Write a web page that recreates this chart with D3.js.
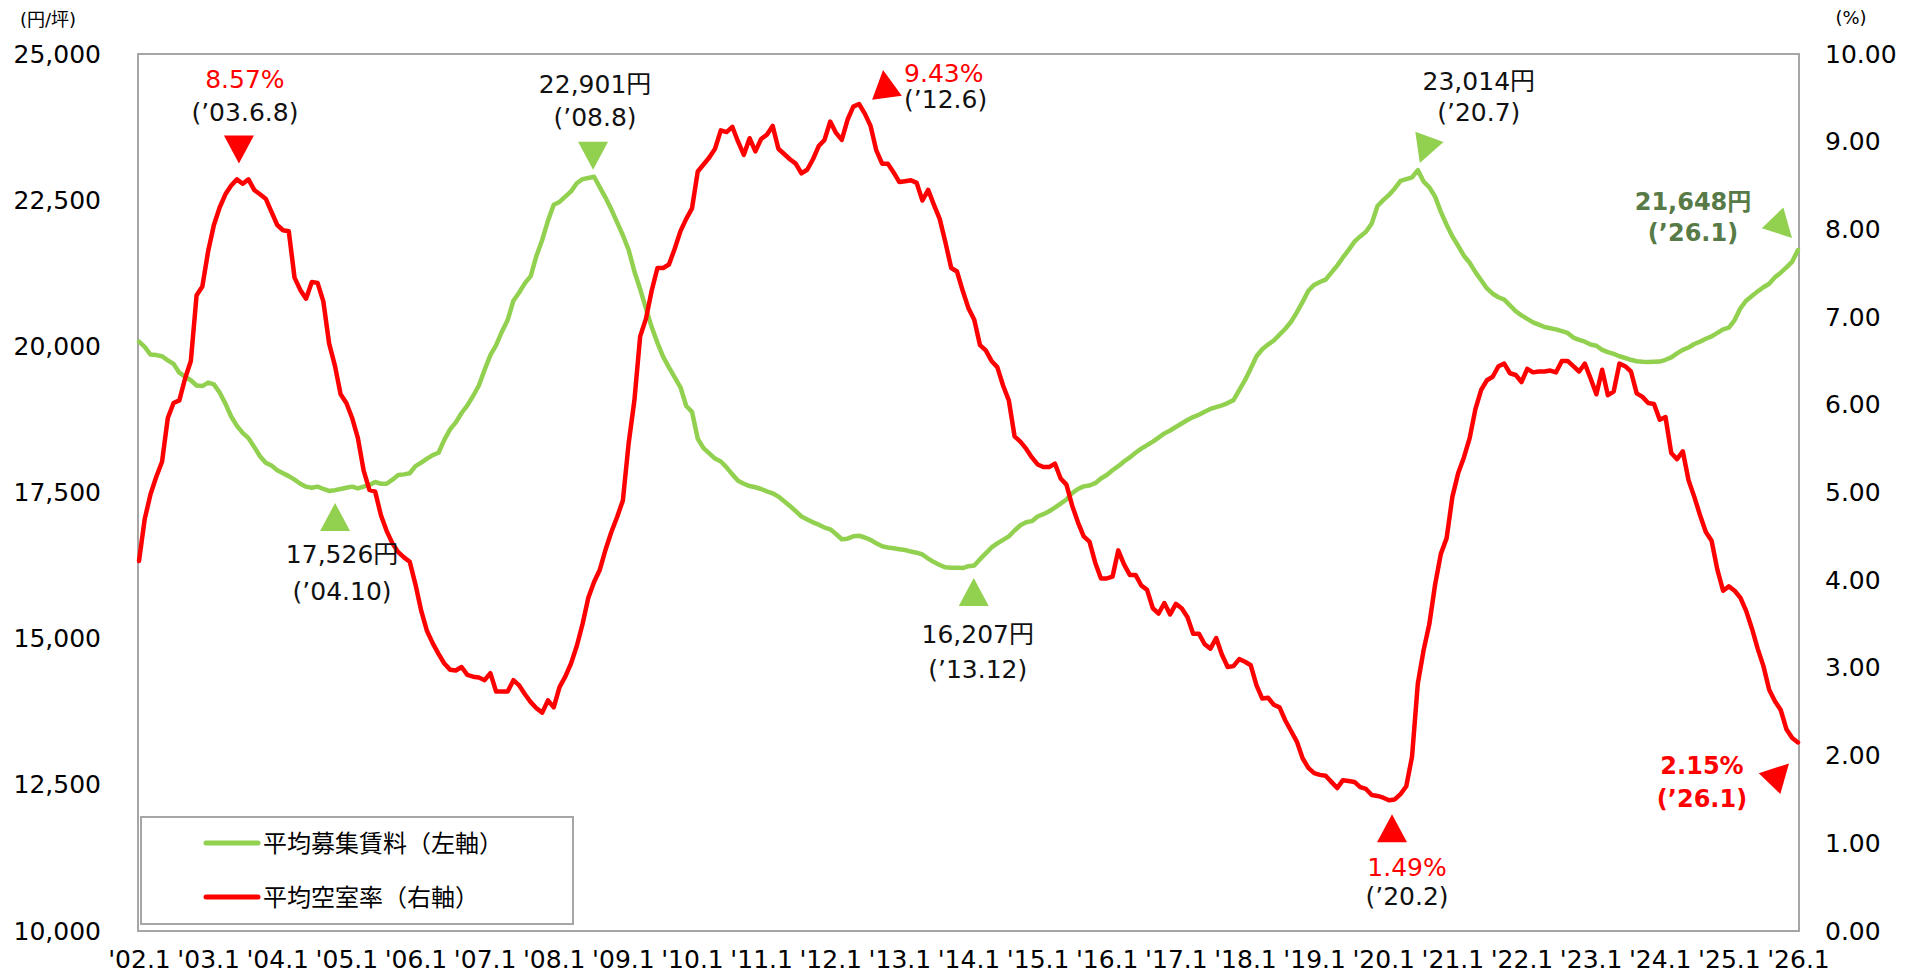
<!doctype html>
<html>
<head>
<meta charset="utf-8">
<title>平均募集賃料・平均空室率</title>
<style>
  body { margin: 0; background: #fff; }
  svg text { font-family: "DejaVu Sans", "Noto Sans CJK JP", sans-serif; }
</style>
</head>
<body>
<svg id="chart" width="1916" height="978"></svg>
<script src="https://d3js.org/d3.v7.min.js"></script>
<script>
// monthly values, '02.1 .. '26.1 (one row per year)
var rent = [
  20080, 19990, 19860, 19850, 19830, 19760, 19700, 19550, 19480, 19420, 19330, 19320,
  19380, 19350, 19210, 19020, 18800, 18640, 18520, 18430, 18280, 18120, 18010, 17960,
  17880, 17830, 17780, 17720, 17650, 17600, 17580, 17600, 17560, 17526, 17540, 17560,
  17580, 17600, 17570, 17600, 17630, 17680, 17650, 17650, 17720, 17800, 17810, 17830,
  17950, 18010, 18080, 18140, 18180, 18400, 18580, 18700, 18860, 18990, 19150, 19330,
  19600, 19850, 20020, 20250, 20450, 20780, 20920, 21080, 21200, 21550, 21820, 22150,
  22420, 22470, 22560, 22650, 22790, 22860, 22880, 22901, 22720, 22540, 22340, 22120,
  21900, 21650, 21280, 20980, 20650, 20330, 20060, 19820, 19640, 19470, 19300, 18980,
  18880, 18420, 18260, 18170, 18080, 18030, 17930, 17810, 17700, 17650, 17610, 17590,
  17560, 17520, 17486, 17430, 17350, 17270, 17180, 17090, 17040, 16990, 16950, 16900,
  16870, 16790, 16700, 16710, 16750, 16760, 16730, 16690, 16630, 16580, 16560, 16545,
  16530, 16517, 16490, 16470, 16440, 16370, 16310, 16260, 16220, 16215, 16215, 16207,
  16240, 16250, 16360, 16460, 16560, 16630, 16690, 16750, 16850, 16940, 16990, 17010,
  17090, 17130, 17180, 17240, 17310, 17380, 17490, 17560, 17605, 17620, 17660, 17740,
  17800, 17880, 17950, 18030, 18100, 18180, 18250, 18310, 18370, 18440, 18510, 18560,
  18620, 18680, 18740, 18790, 18830, 18880, 18930, 18960, 18990, 19030, 19080, 19250,
  19420, 19620, 19830, 19950, 20030, 20100, 20200, 20300, 20420, 20580, 20760, 20950,
  21050, 21100, 21140, 21260, 21380, 21520, 21650, 21790, 21880, 21960, 22100, 22400,
  22500, 22590, 22700, 22830, 22860, 22890, 23014, 22820, 22720, 22560, 22300, 22080,
  21880, 21720, 21550, 21430, 21270, 21130, 20990, 20900, 20840, 20800, 20700, 20600,
  20530, 20470, 20410, 20370, 20330, 20310, 20290, 20260, 20230, 20150, 20110, 20080,
  20030, 20010, 19940, 19900, 19870, 19830, 19800, 19770, 19745, 19735, 19730, 19735,
  19740, 19770, 19810, 19880, 19940, 19980, 20040, 20080, 20130, 20170, 20230, 20290,
  20320, 20450, 20650, 20780, 20860, 20940, 21010, 21070, 21180, 21260, 21350, 21450,
  21648
];

var vacancy = [
  4.22, 4.70, 4.98, 5.18, 5.35, 5.85, 6.02, 6.05, 6.30, 6.50, 7.25, 7.35,
  7.75, 8.05, 8.25, 8.40, 8.50, 8.57, 8.52, 8.57, 8.45, 8.40, 8.35, 8.20,
  8.05, 7.99, 7.98, 7.45, 7.31, 7.21, 7.40, 7.39, 7.18, 6.70, 6.45, 6.12,
  6.02, 5.85, 5.62, 5.25, 5.03, 5.01, 4.74, 4.56, 4.42, 4.32, 4.26, 4.21,
  3.95, 3.65, 3.42, 3.28, 3.16, 3.05, 2.98, 2.97, 3.01, 2.92, 2.90, 2.89,
  2.86, 2.94, 2.73, 2.73, 2.73, 2.86, 2.80, 2.70, 2.61, 2.54, 2.49, 2.63,
  2.55, 2.78, 2.90, 3.05, 3.25, 3.50, 3.80, 3.98, 4.12, 4.35, 4.55, 4.72,
  4.91, 5.56, 6.05, 6.78, 6.98, 7.30, 7.56, 7.56, 7.60, 7.78, 7.98, 8.12,
  8.24, 8.66, 8.74, 8.82, 8.92, 9.13, 9.11, 9.17, 9.00, 8.85, 9.04, 8.89,
  9.03, 9.08, 9.18, 8.92, 8.86, 8.80, 8.75, 8.64, 8.68, 8.80, 8.95, 9.02,
  9.23, 9.10, 9.02, 9.25, 9.40, 9.43, 9.32, 9.18, 8.90, 8.75, 8.75, 8.65,
  8.54, 8.55, 8.56, 8.53, 8.33, 8.45, 8.28, 8.12, 7.85, 7.56, 7.52, 7.30,
  7.10, 6.97, 6.68, 6.62, 6.50, 6.43, 6.22, 6.05, 5.64, 5.58, 5.50, 5.40,
  5.32, 5.29, 5.29, 5.33, 5.16, 5.09, 4.85, 4.66, 4.50, 4.44, 4.20, 4.02,
  4.02, 4.04, 4.34, 4.18, 4.06, 4.06, 3.94, 3.89, 3.68, 3.62, 3.74, 3.61,
  3.73, 3.68, 3.58, 3.39, 3.39, 3.27, 3.22, 3.34, 3.15, 3.01, 3.02, 3.10,
  3.07, 3.03, 2.80, 2.65, 2.66, 2.58, 2.55, 2.40, 2.28, 2.16, 1.97, 1.86,
  1.80, 1.78, 1.77, 1.70, 1.63, 1.72, 1.71, 1.70, 1.64, 1.62, 1.55, 1.54,
  1.52, 1.49, 1.50, 1.56, 1.65, 1.99, 2.82, 3.20, 3.50, 3.95, 4.30, 4.48,
  4.95, 5.22, 5.40, 5.62, 5.95, 6.17, 6.28, 6.32, 6.44, 6.47, 6.36, 6.34,
  6.26, 6.41, 6.37, 6.38, 6.38, 6.39, 6.37, 6.50, 6.50, 6.44, 6.38, 6.47,
  6.30, 6.12, 6.40, 6.11, 6.15, 6.47, 6.44, 6.38, 6.13, 6.09, 6.02, 6.01,
  5.83, 5.86, 5.45, 5.38, 5.47, 5.14, 4.95, 4.74, 4.55, 4.45, 4.12, 3.88,
  3.93, 3.88, 3.80, 3.65, 3.45, 3.22, 3.02, 2.75, 2.62, 2.52, 2.30, 2.20,
  2.15
];

var xTickLabels = ["'02.1", "'03.1", "'04.1", "'05.1", "'06.1", "'07.1", "'08.1", "'09.1",
  "'10.1", "'11.1", "'12.1", "'13.1", "'14.1", "'15.1", "'16.1", "'17.1", "'18.1", "'19.1",
  "'20.1", "'21.1", "'22.1", "'23.1", "'24.1", "'25.1", "'26.1"];
var rentTicks = [10000, 12500, 15000, 17500, 20000, 22500, 25000];
var vacTicks = [0, 1, 2, 3, 4, 5, 6, 7, 8, 9, 10];
var seriesNames = ["平均募集賃料（左軸）", "平均空室率（右軸）"];
var unitLabels = ["(円/坪)", "(%)"];

// callouts: which series, which month (index), two text lines
var noteSeries = ["vac", "rent", "vac", "rent", "rent", "vac", "rent", "rent", "vac"];
var noteMonth = [17, 79, 125, 33, 143, 217, 222, 288, 288];
var noteValue = ["8.57%", "22,901円", "9.43%", "17,526円", "16,207円", "1.49%", "23,014円", "21,648円", "2.15%"];
var noteDate = ["(’03.6.8)", "(’08.8)", "(’12.6)", "(’04.10)", "(’13.12)", "(’20.2)", "(’20.7)", "(’26.1)", "(’26.1)"];

var green = "#92d050", red = "#ff0000", frameGray = "#a6a6a6";

var svg = d3.select("#chart");
var plot = {left: 138, top: 54, right: 1799, bottom: 931};

var x = d3.scaleLinear().domain([0, rent.length - 1]).range([139, 1798]);
var yRent = d3.scaleLinear().domain([10000, 25000]).range([plot.bottom, plot.top]);
var yVac = d3.scaleLinear().domain([0, 10]).range([plot.bottom, plot.top]);

// plot frame
svg.append("rect")
  .attr("x", plot.left).attr("y", plot.top)
  .attr("width", plot.right - plot.left).attr("height", plot.bottom - plot.top)
  .attr("fill", "none").attr("stroke", frameGray).attr("stroke-width", 2);

// axes
function styleAxis(g) {
  g.select(".domain").remove();
  g.selectAll("line").remove();
  g.selectAll("text").attr("font-size", 25).attr("fill", "#000")
    .style("font-family", '"DejaVu Sans", sans-serif');
}

svg.append("g")
  .attr("transform", "translate(" + plot.left + ",0)")
  .call(d3.axisLeft(yRent).tickValues(rentTicks).tickFormat(d3.format(",")).tickSize(0).tickPadding(37))
  .call(styleAxis);

svg.append("g")
  .attr("transform", "translate(" + plot.right + ",0)")
  .call(d3.axisRight(yVac).tickValues(vacTicks).tickFormat(d3.format(".2f")).tickSize(0).tickPadding(26))
  .call(styleAxis);

svg.append("g")
  .attr("transform", "translate(0," + plot.bottom + ")")
  .call(d3.axisBottom(x).tickValues(xTickLabels.map(function(d, i) { return i * 12; }))
    .tickFormat(function(d, i) { return xTickLabels[i]; }).tickSize(0).tickPadding(19))
  .call(styleAxis);

// unit labels
svg.append("text").attr("x", 48).attr("y", 26).attr("text-anchor", "middle")
  .attr("font-size", 18).attr("fill", "#000").text(unitLabels[0]);
svg.append("text").attr("x", 1851).attr("y", 24).attr("text-anchor", "middle")
  .attr("font-size", 18).attr("fill", "#000").text(unitLabels[1]);

// lines (green under red)
var rentLine = d3.line().x(function(d, i) { return x(i); }).y(function(d) { return yRent(d); });
var vacLine = d3.line().x(function(d, i) { return x(i); }).y(function(d) { return yVac(d); });

svg.append("path").datum(rent).attr("d", rentLine)
  .attr("fill", "none").attr("stroke", green).attr("stroke-width", 4.5)
  .attr("stroke-linejoin", "round").attr("stroke-linecap", "round");
svg.append("path").datum(vacancy).attr("d", vacLine)
  .attr("fill", "none").attr("stroke", red).attr("stroke-width", 4.5)
  .attr("stroke-linejoin", "round").attr("stroke-linecap", "round");

// callouts: triangle apex offset, rotation, text offsets (pixels from the data point)
var layout = [
  {dir: "down", ax: 2,  ay: -16, rot: 0,   anchor: "middle", tx: 8,    ty1: -91, ty2: -58, bold: false},
  {dir: "down", ax: -1, ay: -7,  rot: 0,   anchor: "middle", tx: 1,    ty1: -84, ty2: -51, bold: false},
  {dir: "up",   ax: 24, ay: -34, rot: -8,  anchor: "start",  tx: 45,   ty1: -22, ty2: 4,   bold: false},
  {dir: "up",   ax: 6,  ay: 12,  rot: 0,   anchor: "middle", tx: 13,   ty1: 72,  ty2: 109, bold: false},
  {dir: "up",   ax: 11, ay: 10,  rot: 0,   anchor: "middle", tx: 15,   ty1: 75,  ty2: 110, bold: false},
  {dir: "up",   ax: 3,  ay: 14,  rot: 0,   anchor: "middle", tx: 18,   ty1: 76,  ty2: 105, bold: false},
  {dir: "down", ax: 2,  ay: -7,  rot: 20,  anchor: "middle", tx: 61,   ty1: -80, ty2: -49, bold: false},
  {dir: "down", ax: -6, ay: -12, rot: -44, anchor: "middle", tx: -105, ty1: -40, ty2: -9,  bold: true},
  {dir: "up",   ax: -9, ay: 21,  rot: 44,  anchor: "middle", tx: -96,  ty1: 32,  ty2: 65,  bold: true}
];

var notes = svg.append("g");
noteMonth.forEach(function(m, i) {
  var isVac = noteSeries[i] === "vac";
  var px = x(m);
  var py = isVac ? yVac(vacancy[m]) : yRent(rent[m]);
  var L = layout[i];
  var col = isVac ? red : green;
  var tri = L.dir === "down" ? "M0,0L15,-28L-15,-28Z" : "M0,0L15,28L-15,28Z";

  notes.append("path").attr("d", tri).attr("fill", col)
    .attr("transform", "translate(" + (px + L.ax) + "," + (py + L.ay) + ") rotate(" + L.rot + ")");

  var valColor, dateColor;
  if (L.bold) {
    valColor = isVac ? red : "#577a47";
    dateColor = valColor;
  } else {
    valColor = isVac ? red : "#111";
    dateColor = "#111";
  }
  notes.append("text").attr("x", px + L.tx).attr("y", py + L.ty1)
    .attr("text-anchor", L.anchor).attr("font-size", L.bold ? 24 : 25)
    .attr("font-weight", L.bold ? "bold" : "normal").attr("fill", valColor).text(noteValue[i]);
  notes.append("text").attr("x", px + L.tx).attr("y", py + L.ty2)
    .attr("text-anchor", L.anchor).attr("font-size", L.bold ? 24 : 25)
    .attr("font-weight", L.bold ? "bold" : "normal").attr("fill", dateColor).text(noteDate[i]);
});

// legend
var legend = svg.append("g").attr("transform", "translate(141,817)");
legend.append("rect").attr("width", 432).attr("height", 107)
  .attr("fill", "#fff").attr("stroke", frameGray).attr("stroke-width", 2);
[green, red].forEach(function(c, i) {
  var ly = 26 + i * 54;
  legend.append("line").attr("x1", 65).attr("x2", 117).attr("y1", ly).attr("y2", ly)
    .attr("stroke", c).attr("stroke-width", 5).attr("stroke-linecap", "round");
  legend.append("text").attr("x", 122).attr("y", ly + 9)
    .attr("font-size", 24).attr("fill", "#000")
    .style("font-family", '"Noto Sans CJK JP", sans-serif').text(seriesNames[i]);
});
</script>
</body>
</html>
